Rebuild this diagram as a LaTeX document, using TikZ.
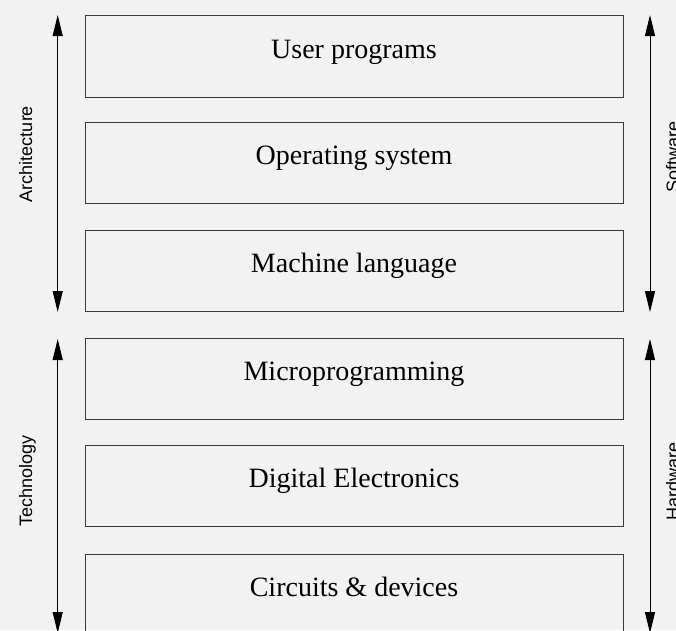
\documentclass[tikz,border=0pt]{standalone}
\usepackage{fontspec}
\setmainfont{Liberation Serif}
\setsansfont{Liberation Sans}
\usepackage{tikz}
\usetikzlibrary{positioning, arrows.meta}
\definecolor{bgGray}{HTML}{F2F2F2}
\definecolor{edgeDark}{HTML}{3A3A3A}

\begin{document}
\begin{tikzpicture}[
  x=1pt, y=-1pt,
  layer/.style={
    rectangle, draw=edgeDark, line width=1pt,
    minimum width=538pt, minimum height=81.5pt,
    text height=14pt, text depth=11pt, inner sep=0pt,
    font=\fontsize{28}{34}\selectfont
  },
  span/.style={
    {Triangle[length=21pt,width=10pt]}-{Triangle[length=21pt,width=10pt]},
    line width=1pt, black
  },
  side/.style={
    rotate=90, anchor=base, inner sep=0pt,
    font=\sffamily\fontsize{18}{22}\selectfont
  },
]

% Background and page size
\fill[bgGray] (0,0) rectangle (676,630);
\useasboundingbox (0,0) rectangle (676,630);

% Layers
\node[layer] (user) at (354,56.7) {User programs};
\node[layer] (os) at (354,163.2) {Operating system};
\node[layer] (mach) at (354,270.8) {Machine language};
\node[layer] (micro) at (354,379.2) {Microprogramming};
\node[layer] (digital) at (354,486.2) {Digital Electronics};
\node[layer] (circ) at (354,595) {Circuits \& devices};

% Span arrows
\coordinate (archTop) at (57.7,15);
\coordinate (archBot) at (57.7,312);
\coordinate (techTop) at (57.7,339);
\coordinate (techBot) at (57.7,633);
\coordinate (softTop) at (650,15);
\coordinate (softBot) at (650,312);
\coordinate (hardTop) at (650,339);
\coordinate (hardBot) at (650,633);
\draw[span] (archTop) -- (archBot);
\draw[span] (techTop) -- (techBot);
\draw[span] (softTop) -- (softBot);
\draw[span] (hardTop) -- (hardBot);

% Side labels
\node[side] (arch) at (32,154) {Architecture};
\node[side] (tech) at (32,481) {Technology};
\node[side] (soft) at (679,157) {Software};
\node[side] (hard) at (679,481) {Hardware};

\end{tikzpicture}
\end{document}
